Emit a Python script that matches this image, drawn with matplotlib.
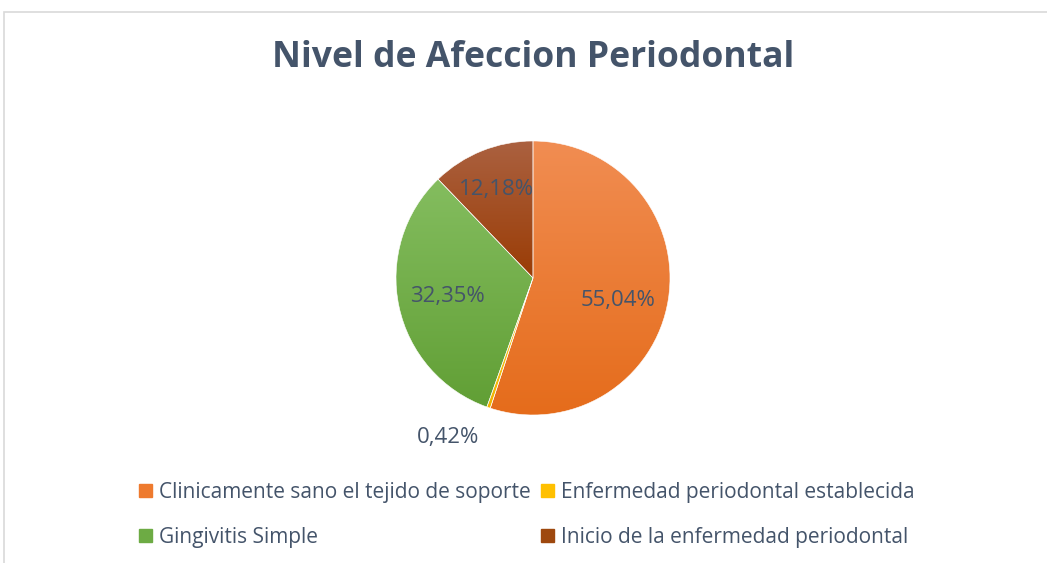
import numpy as np
import matplotlib
matplotlib.use("Agg")
import matplotlib.pyplot as plt
from matplotlib.colors import LinearSegmentedColormap
from matplotlib.patches import Rectangle

title = "Nivel de Afeccion Periodontal"
categories = ["Clinicamente sano el tejido de soporte",
              "Enfermedad periodontal establecida",
              "Gingivitis Simple",
              "Inicio de la enfermedad periodontal"]
values = [55.04, 0.42, 32.35, 12.18]
top_colors = ["#F18D52", "#FFCB33", "#84BD5F", "#AB6140"]
bottom_colors = ["#E56C1B", "#F0B400", "#619F35", "#9A3C05"]
legend_colors = ["#EE7A2E", "#FFC000", "#6DAB44", "#9E480E"]
text_color = "#44546A"

plt.rcParams['font.family'] = ['Open Sans', 'DejaVu Sans']

W, H = 1047, 563
fig = plt.figure(figsize=(W / 100, H / 100), dpi=100)
fig.patch.set_facecolor("white")

# outer border
fig.patches.append(Rectangle((4 / W, -0.1), 1.2, (H - 12) / H + 0.1, transform=fig.transFigure,
                             fill=False, edgecolor="#D9D9D9", linewidth=1.2))

cx, cy, r = 533, 278, 137
ax = fig.add_axes([(cx - r) / W, (H - cy - r) / H, 2 * r / W, 2 * r / H])
ax.axis("off")

wedges, texts = ax.pie(values, startangle=90, counterclock=False, radius=1.0,
                       colors=legend_colors,
                       wedgeprops=dict(linewidth=0.4, edgecolor="#FFFFFF"))
ax.set_xlim(-1, 1)
ax.set_ylim(-1, 1)

for w, tc, bc in zip(wedges, top_colors, bottom_colors):
    ext = w.get_path().get_extents(w.get_patch_transform())
    cmap = LinearSegmentedColormap.from_list("g", [bc, tc])
    grad = np.linspace(0, 1, 256).reshape(-1, 1)
    im = ax.imshow(grad, cmap=cmap, origin="lower", aspect="auto",
                   extent=[ext.x0, ext.x1, ext.y0, ext.y1], zorder=w.get_zorder() + 0.1)
    im.set_clip_path(w)
for w in wedges:
    w.set_facecolor("none")
    w.set_zorder(3)

# data labels (dist, angle offset) per slice
label_place = [(0.64, -6), (1.32, -9), (0.64, 0), (0.70, 0.5)]
for w, v, (dist, doff) in zip(wedges, values, label_place):
    ang = np.deg2rad((w.theta1 + w.theta2) / 2 + doff)
    ax.text(dist * np.cos(ang), dist * np.sin(ang), ("%.2f%%" % v).replace(".", ","),
            ha="center", va="center", color=text_color, fontsize=16, zorder=5)

fig.text(533 / W, 1 - 58 / H, title, ha="center", va="center",
         fontsize=25.6, fontweight="bold", color=text_color)

handles = [Rectangle((0, 0), 1, 1, color=c) for c in legend_colors]
order = [0, 2, 1, 3]
leg = fig.legend([handles[i] for i in order], [categories[i] for i in order],
                 ncol=2, loc="center", bbox_to_anchor=(527 / W, 1 - 515 / H),
                 frameon=False, fontsize=15, labelcolor=text_color,
                 handlelength=0.6, handleheight=0.6, handletextpad=0.35,
                 columnspacing=0.5, labelspacing=1.15)

fig.savefig("out.png", dpi=100, facecolor="white")
